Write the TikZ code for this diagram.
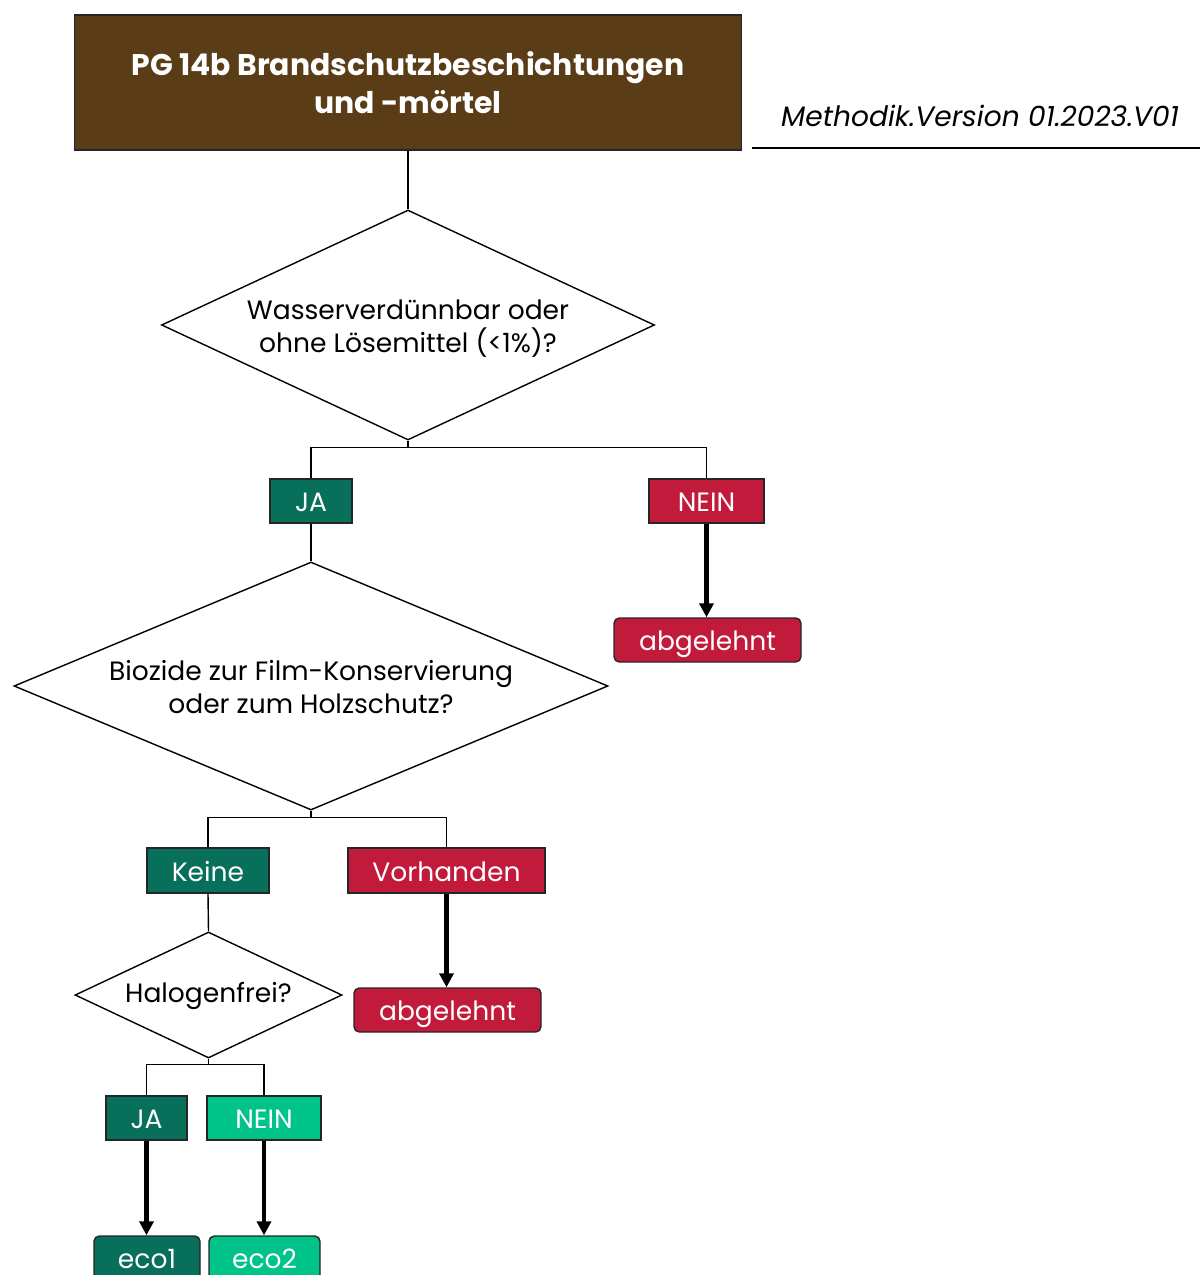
\documentclass[tikz,border=0pt]{standalone}
\usepackage{fontspec}
\setmainfont{Poppins}
\usetikzlibrary{shapes.geometric,arrows.meta}
\definecolor{brownbox}{HTML}{5A3D17}
\definecolor{dgreen}{HTML}{08705A}
\definecolor{redbox}{HTML}{C11A3B}
\definecolor{lgreen}{HTML}{00C389}
\newcommand\PX{0.02cm}
\begin{document}
\begin{tikzpicture}[x=0.02cm,y=-0.02cm,
  bodyfont/.style={font=\fontsize{15.1}{18.7}\selectfont},
  titlebox/.style={draw=black!85,line width=0.8pt,fill=brownbox,text=white,align=center,inner sep=0pt,
    font=\fontsize{17}{22}\selectfont\bfseries},
  dia/.style={draw=black,line width=0.8pt,shape=diamond,inner sep=0pt},
  diatext/.style={align=center,inner sep=0pt,bodyfont},
  lab/.style={draw=black!85,line width=0.8pt,text=white,inner sep=0pt,bodyfont,text height=13pt,text depth=1pt},
  rej/.style={lab,rounded corners=3pt,fill=redbox},
  thin/.style={draw=black,line width=0.8pt},
  thick/.style={draw=black,line width=2.4pt,-{Triangle[length=8pt,width=8pt]}},
]
\useasboundingbox (0,0) rectangle (1200,1275);
\node[titlebox,minimum width=667*\PX,minimum height=135*\PX] (title) at (408,82.5)
  {PG 14b Brandschutzbeschichtungen\\und -mörtel};
\node[font=\fontsize{16}{18}\selectfont\itshape,inner sep=0pt] (meth) at (980,116) {Methodik.Version 01.2023.V01};
\coordinate (ml) at (752,148);
\coordinate (mr) at (1200,148);
\draw[line width=1pt] (ml) -- (mr);

\node[dia,shape aspect=2.1435,minimum width=493*\PX,minimum height=230*\PX] (d1) at (408,325) {};
\node[diatext] (d1t) at ([yshift=-4*\PX]d1.center) {Wasserverdünnbar oder\\ohne Lösemittel (<1\%)?};
\node[lab,fill=dgreen,minimum width=82*\PX,minimum height=44*\PX] (ja1) at (311,501) {JA};
\node[lab,fill=redbox,minimum width=115*\PX,minimum height=44*\PX] (nein1) at (706.5,501) {NEIN};
\node[rej,minimum width=187*\PX,minimum height=44*\PX] (rej1) at (707.5,640) {abgelehnt};

\node[dia,shape aspect=2.395,minimum width=594*\PX,minimum height=248*\PX] (d2) at (311,686) {};
\node[diatext] (d2t) at ([yshift=-1*\PX]d2.center) {Biozide zur Film-Konservierung\\oder zum Holzschutz?};
\node[lab,fill=dgreen,minimum width=122*\PX,minimum height=45*\PX] (keine) at (208,870.5) {Keine};
\node[lab,fill=redbox,minimum width=197*\PX,minimum height=45*\PX] (vorh) at (446.5,870.5) {Vorhanden};
\node[rej,minimum width=187*\PX,minimum height=44*\PX] (rej2) at (447.5,1010) {abgelehnt};

\node[dia,shape aspect=2.119,minimum width=267*\PX,minimum height=126*\PX] (d3) at (208.5,995) {};
\node[diatext] (d3t) at ([yshift=-1*\PX]d3.center) {Halogenfrei?};
\node[lab,fill=dgreen,minimum width=81*\PX,minimum height=44*\PX] (ja2) at (146.5,1118) {JA};
\node[lab,fill=lgreen,minimum width=114*\PX,minimum height=44*\PX] (nein2) at (264,1118) {NEIN};
\node[lab,rounded corners=3pt,fill=dgreen,minimum width=106*\PX,minimum height=44*\PX] (eco1) at (147,1258) {eco1};
\node[lab,rounded corners=3pt,fill=lgreen,minimum width=111*\PX,minimum height=44*\PX] (eco2) at (264.5,1258) {eco2};

% connectors
\draw[thin] (title.south) -- (d1.north);
\coordinate (b1) at ([yshift=-7*\PX]d1.south);
\draw[thin] (d1.south) -- (b1) -| (ja1.north);
\draw[thin] (b1) -| (nein1.north);
\draw[thick] (nein1.south) -- (nein1.south |- rej1.north);
\draw[thin] (ja1.south) -- (d2.north);
\coordinate (b2) at ([yshift=-7*\PX]d2.south);
\draw[thin] (d2.south) -- (b2) -| (keine.north);
\draw[thin] (b2) -| (vorh.north);
\draw[thick] (vorh.south) -- (vorh.south |- rej2.north);
\draw[thin] (keine.south) -- (d3.north);
\coordinate (b3) at ([yshift=-6*\PX]d3.south);
\draw[thin] (d3.south) -- (b3) -| (ja2.north);
\draw[thin] (b3) -| (nein2.north);
\draw[thick] (ja2.south) -- (ja2.south |- eco1.north);
\draw[thick] (nein2.south) -- (nein2.south |- eco2.north);
\end{tikzpicture}
\end{document}
